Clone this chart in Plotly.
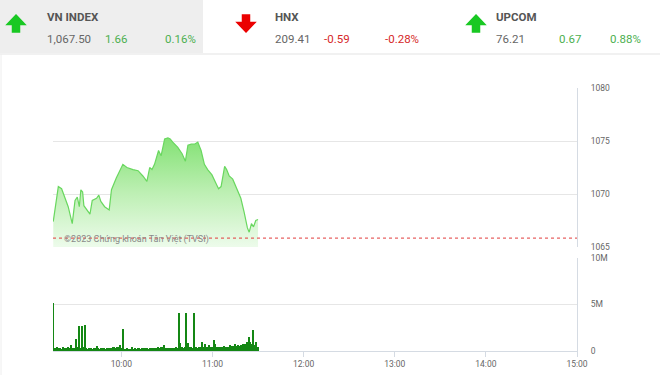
import plotly.graph_objects as go
import pandas as pd

W, H = 660, 375
DATE = "2023-01-01 "

# ---- header data ----
index_names = ["VN INDEX", "HNX", "UPCOM"]
index_values = [1067.50, 209.41, 76.21]
index_changes = [1.66, -0.59, 0.67]
index_pcts = [0.16, -0.28, 0.88]

# ---- intraday price (VN-Index) ----
price_times = [
    "09:15:10", "09:18:30", "09:20:40", "09:22:50", "09:25:00", "09:27:40", "09:29:30",
    "09:31:00", "09:32:20", "09:33:20", "09:34:30", "09:35:20", "09:37:00", "09:39:20",
    "09:40:50", "09:43:40", "09:45:10", "09:46:30", "09:49:00", "09:52:00", "09:53:30",
    "09:56:40", "10:01:00", "10:03:40", "10:07:40", "10:11:00", "10:14:10", "10:16:50",
    "10:18:40", "10:20:10", "10:21:50", "10:24:30", "10:26:10", "10:28:30", "10:30:40",
    "10:32:10", "10:33:50", "10:37:10", "10:40:00", "10:42:10", "10:43:50", "10:46:00",
    "10:48:10", "10:50:20", "10:52:30", "10:54:40", "10:56:50", "10:59:40", "11:02:20",
    "11:04:00", "11:05:40", "11:06:40", "11:08:00", "11:09:20", "11:11:00", "11:13:20",
    "11:16:30", "11:18:40", "11:20:50", "11:23:00", "11:24:10", "11:25:40", "11:27:00",
    "11:28:30", "11:30:00",
]
price_values = [
    1067.4, 1070.7, 1070.5, 1069.7, 1068.8, 1067.2, 1069.4,
    1069.7, 1068.8, 1070.4, 1070.2, 1068.9, 1068.6, 1068.1,
    1069.4, 1069.6, 1069.9, 1069.3, 1068.8, 1068.5, 1070.4,
    1071.5, 1072.8, 1072.5, 1072.3, 1072.2, 1071.7, 1071.2,
    1072.5, 1072.3, 1072.8, 1074.1, 1073.6, 1075.2, 1075.3,
    1075.2, 1074.9, 1074.4, 1073.8, 1073.1, 1074.6, 1074.7,
    1074.7, 1074.9, 1074.1, 1072.8, 1072.3, 1071.8, 1071.0,
    1070.5, 1070.7, 1071.4, 1072.6, 1072.3, 1071.7, 1071.4,
    1070.4, 1069.6, 1068.3, 1066.8, 1066.4, 1067.2, 1066.9,
    1067.5, 1067.6,
]

# ---- per-minute volume (millions), from 09:15 ----
volume_m = [
    5.2, 0.35, 0.3, 0.4, 0.3, 0.35, 0.25, 0.4, 0.3, 0.3, 0.45, 0.3,
    0.6, 0.3, 0.35, 1.3, 0.4, 2.7, 0.3, 2.7, 0.4, 2.8, 0.3, 0.25,
    0.3, 0.35, 0.25, 0.3, 0.3, 0.5, 0.3, 0.25, 0.3, 0.3, 0.35, 0.25,
    0.3, 0.3, 0.35, 0.3, 0.4, 0.35, 0.4, 0.45, 0.6, 0.3, 2.4, 0.25,
    0.25, 0.3, 0.25, 0.25, 0.4, 0.25, 0.3, 0.25, 0.3, 0.3, 0.25, 0.3,
    0.3, 0.35, 0.3, 0.25, 0.3, 0.35, 0.3, 0.3, 0.35, 0.4, 0.35, 0.4,
    0.45, 0.6, 0.35, 0.3, 0.3, 0.35, 0.3, 0.3, 0.35, 0.4, 0.35, 4.1,
    0.9, 0.4, 0.35, 0.4, 4.1, 0.9, 0.4, 0.4, 0.35, 4.1, 0.4, 0.35,
    0.4, 0.4, 1.0, 0.4, 0.7, 0.45, 0.45, 0.6, 0.4, 0.4, 1.2, 0.8,
    0.4, 0.45, 0.4, 0.4, 0.45, 0.5, 0.45, 0.45, 0.45, 0.6, 0.5, 0.5,
    0.75, 0.5, 0.6, 0.5, 0.6, 0.7, 0.8, 0.7, 1.0, 1.5, 1.0, 0.7,
    2.3, 0.6, 1.0, 0.4,
]

x_start = DATE + "09:15:00"
x_end = DATE + "15:00:00"
ref_price = round(index_values[0] - index_changes[0], 2)

def px(x):
    return x / W

def py(y):
    return 1 - y / H

price_x = pd.to_datetime([DATE + t for t in price_times])
vol_x = pd.date_range(x_start, periods=len(volume_m), freq="min")

fig = go.Figure()

fig.add_trace(go.Scatter(
    x=price_x, y=price_values, mode="lines",
    line=dict(color="rgb(105,215,95)", width=1.2),
    fill="tozeroy",
    fillgradient=dict(
        type="vertical",
        colorscale=[[0, "rgba(236,251,234,1)"], [0.5, "rgb(188,239,178)"], [1, "rgb(130,225,115)"]],
        start=1065, stop=1075.3,
    ),
    xaxis="x", yaxis="y", showlegend=False, hoverinfo="skip",
))

fig.add_trace(go.Bar(
    x=vol_x, y=volume_m, marker=dict(color="rgb(20,135,20)", line=dict(width=0)),
    xaxis="x2", yaxis="y2", showlegend=False, hoverinfo="skip",
))

grid = "#e6e6e6"
border = "#d5dbe3"
tickfont = dict(family="Roboto, Arial, sans-serif", size=8.5, color="#666")
xdom = [px(53), px(577)]

fig.update_layout(
    width=W, height=H,
    margin=dict(l=0, r=0, t=0, b=0),
    paper_bgcolor="white", plot_bgcolor="white",
    bargap=0,
    xaxis=dict(domain=xdom, range=[x_start, x_end], anchor="y",
               showticklabels=False, showgrid=False, zeroline=False, showline=False,
               fixedrange=True),
    yaxis=dict(domain=[py(247), py(88)], range=[1065, 1080], side="right", anchor="x",
               tickvals=[1065, 1070, 1075, 1080], showgrid=True, gridcolor=grid,
               zeroline=False, showline=True, linecolor=border, linewidth=1,
               ticks="outside", ticklen=11, tickcolor="rgba(0,0,0,0)",
               tickfont=tickfont, automargin=False, fixedrange=True),
    xaxis2=dict(domain=xdom, range=[x_start, x_end], anchor="y2",
                tickformat="%H:%M", dtick=3600000, tick0=DATE + "09:00:00",
                showgrid=False, zeroline=False, showline=True, linecolor=border,
                ticks="outside", ticklen=5, tickcolor=border,
                tickfont=tickfont, automargin=False, fixedrange=True),
    yaxis2=dict(domain=[py(351), py(258)], range=[0, 10], side="right", anchor="x2",
                tickvals=[0, 5, 10], ticktext=["0", "5M", "10M"],
                showgrid=True, gridcolor=grid, zeroline=False,
                showline=True, linecolor=border, linewidth=1,
                ticks="outside", ticklen=11, tickcolor="rgba(0,0,0,0)",
                tickfont=tickfont, automargin=False, fixedrange=True),
)

# reference (previous close) line
fig.add_shape(type="line", xref="x domain", yref="y", x0=0, x1=1, y0=ref_price, y1=ref_price,
              line=dict(color="rgb(225,60,60)", width=1, dash="dot"))

fig.add_annotation(x=px(62), y=py(239), xref="paper", yref="paper", xanchor="left", yanchor="middle",
                   text="©2023 Chứng khoán Tân Việt (TVSI)", showarrow=False,
                   font=dict(family="Roboto, Arial, sans-serif", size=9, color="#8a8a8a"))

# ---- header ----
fig.add_shape(type="rect", xref="paper", yref="paper", x0=0, x1=px(203), y0=py(53), y1=1,
              fillcolor="#eeeeee", line=dict(width=0), layer="below")
fig.add_shape(type="line", xref="paper", yref="paper", x0=0, x1=1, y0=py(54), y1=py(54),
              line=dict(color="#e3e3e3", width=1))
fig.add_shape(type="line", xref="paper", yref="paper", x0=px(1), x1=px(1), y0=0, y1=py(54),
              line=dict(color="#eeeeee", width=1))

def arrow(cx, top, bottom, up, color):
    hw, sw, hh = 9.0, 3.5, 9.5
    if up:
        base = top + hh
        pts = [(cx, top), (cx + hw, base), (cx + sw, base), (cx + sw, bottom),
               (cx - sw, bottom), (cx - sw, base), (cx - hw, base)]
    else:
        base = bottom - hh
        pts = [(cx, bottom), (cx + hw, base), (cx + sw, base), (cx + sw, top),
               (cx - sw, top), (cx - sw, base), (cx - hw, base)]
    path = "M " + " L ".join(f"{px(a):.5f},{py(b):.5f}" for a, b in pts) + " Z"
    fig.add_shape(type="path", xref="paper", yref="paper", path=path,
                  fillcolor=color, line=dict(color=color, width=1.5))

green = "rgb(76,175,80)"
red = "rgb(214,40,40)"
hdr_font = "Roboto, Arial, sans-serif"
col_x = [(16, 45, 103, 163), (246, 273, 322, 383), (476, 494, 557, 608)]
for i, name in enumerate(index_names):
    ax, tx, cx_, pxx = col_x[i]
    up = index_changes[i] >= 0
    arrow(ax, 15, 32, up, "rgb(25,200,35)" if up else "rgb(235,0,0)")
    c = green if up else red
    fig.add_annotation(x=px(tx), y=py(17), xref="paper", yref="paper", xanchor="left", yanchor="middle",
                       text=f"<b>{name}</b>", showarrow=False,
                       font=dict(family=hdr_font, size=11.5, color="#555"))
    fig.add_annotation(x=px(tx), y=py(39), xref="paper", yref="paper", xanchor="left", yanchor="middle",
                       text=f"{index_values[i]:,.2f}", showarrow=False,
                       font=dict(family=hdr_font, size=11.5, color="#666"))
    fig.add_annotation(x=px(cx_), y=py(39), xref="paper", yref="paper", xanchor="left", yanchor="middle",
                       text=f"{index_changes[i]:.2f}", showarrow=False,
                       font=dict(family=hdr_font, size=11.5, color=c))
    fig.add_annotation(x=px(pxx), y=py(39), xref="paper", yref="paper", xanchor="left", yanchor="middle",
                       text=f"{index_pcts[i]:.2f}%", showarrow=False,
                       font=dict(family=hdr_font, size=11.5, color=c))

fig.write_html("out.html")
